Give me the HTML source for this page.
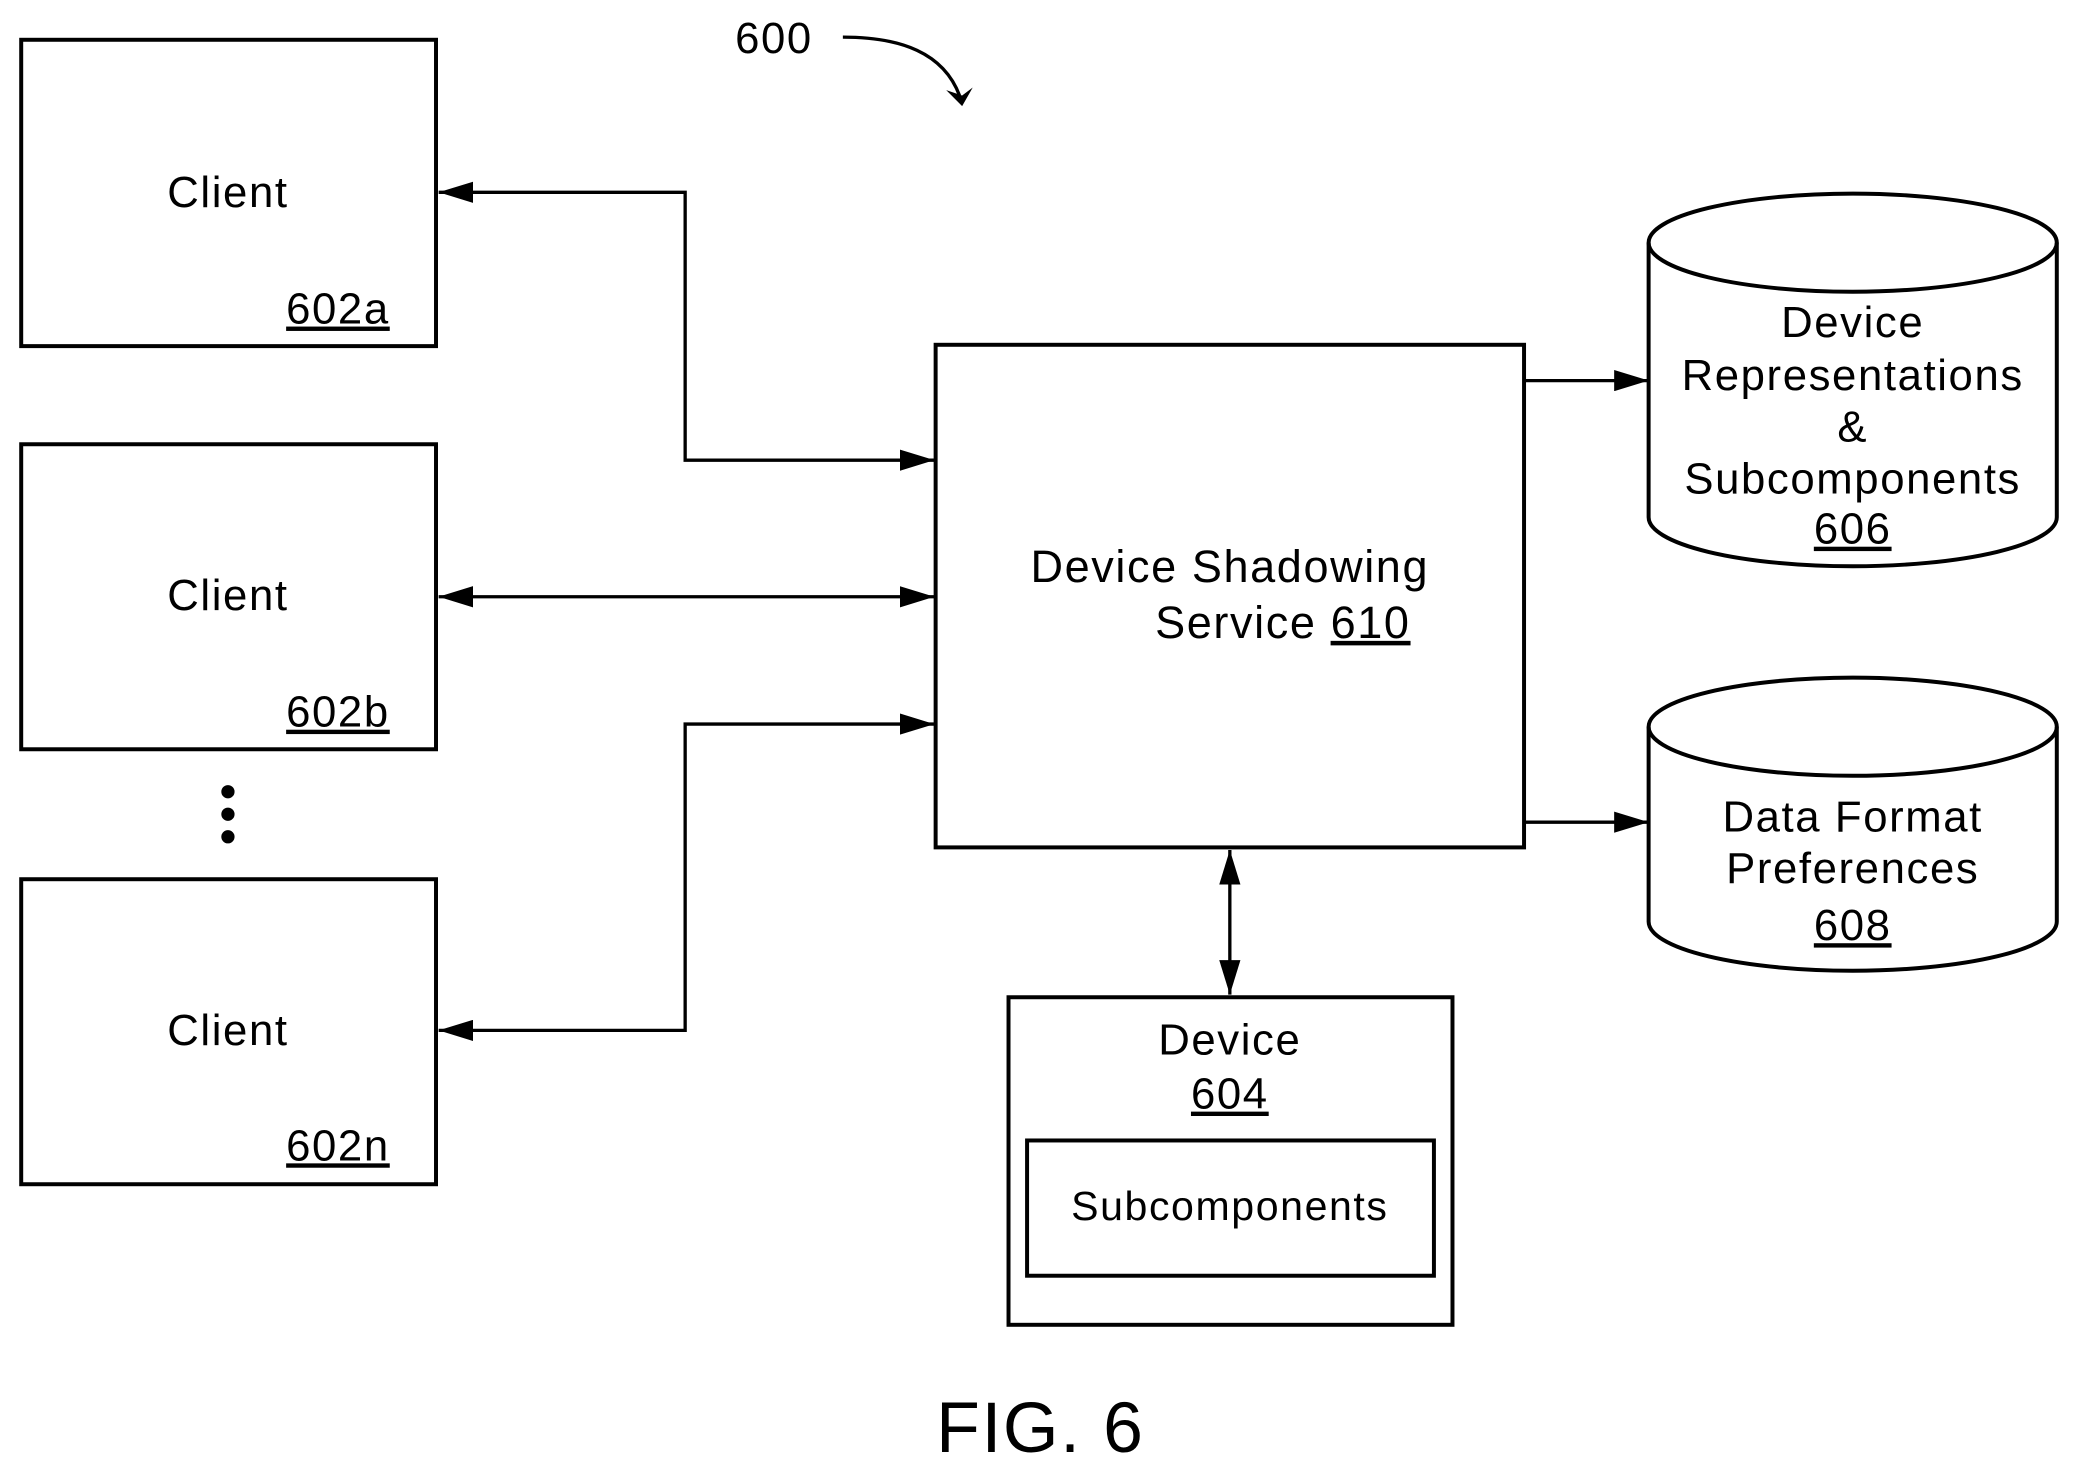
<!DOCTYPE html>
<html><head><style>html,body{margin:0;padding:0;background:#fff}svg{display:block}</style></head>
<body>
<svg width="2078" height="1472" viewBox="0 0 1568 1110" preserveAspectRatio="none" xmlns="http://www.w3.org/2000/svg" font-family="Liberation Sans, Arial, sans-serif" font-size="33" fill="#000">
<defs>
<marker id="a" viewBox="0 0 26 16" refX="26" refY="8" markerWidth="26" markerHeight="16" orient="auto-start-reverse" markerUnits="userSpaceOnUse">
<path d="M0,0 L26,8 L0,16 z"/>
</marker>
</defs>
<g fill="none" stroke="#000" stroke-width="3">
<rect x="16" y="30" width="313" height="231"/>
<rect x="16" y="335" width="313" height="230"/>
<rect x="16" y="663" width="313" height="230"/>
<rect x="706" y="260" width="444" height="379"/>
<rect x="761" y="752" width="335" height="247"/>
<rect x="775" y="860" width="307" height="102"/>
<path d="M1244,183 V390 A154,37 0 0 0 1552,390 V183"/>
<ellipse cx="1398" cy="183" rx="154" ry="37"/>
<path d="M1244,548 V695 A154,37 0 0 0 1552,695 V548"/>
<ellipse cx="1398" cy="548" rx="154" ry="37"/>
</g>
<g fill="none" stroke="#000" stroke-width="2.5">
<path d="M331,145 H517 V347 H705" marker-start="url(#a)" marker-end="url(#a)"/>
<path d="M331,450 H705" marker-start="url(#a)" marker-end="url(#a)"/>
<path d="M331,777 H517 V546 H705" marker-start="url(#a)" marker-end="url(#a)"/>
<path d="M1150,287 H1244" marker-end="url(#a)"/>
<path d="M1150,620 H1244" marker-end="url(#a)"/>
<path d="M928,641 V750" marker-start="url(#a)" marker-end="url(#a)"/>
<path d="M636,28 C680,28 712,40 724,72" />
</g>
<path d="M714,68 L726,80 L734,66 L726,72 z"/>
<circle cx="172" cy="597" r="5"/><circle cx="172" cy="614" r="5"/><circle cx="172" cy="631" r="5"/>
<g text-anchor="middle" letter-spacing="1.2">
<text x="172" y="156">Client</text>
<text x="172" y="460">Client</text>
<text x="172" y="788">Client</text>
<text x="255" y="244" text-decoration="underline">602a</text>
<text x="255" y="548" text-decoration="underline">602b</text>
<text x="255" y="875" text-decoration="underline">602n</text>
<text x="928" y="439" font-size="34">Device Shadowing</text>
<text x="968" y="481" font-size="34">Service <tspan text-decoration="underline">610</tspan></text>
<text x="1398" y="254">Device</text>
<text x="1398" y="294">Representations</text>
<text x="1398" y="333">&amp;</text>
<text x="1398" y="372">Subcomponents</text>
<text x="1398" y="410" text-decoration="underline">606</text>
<text x="1398" y="627">Data Format</text>
<text x="1398" y="666">Preferences</text>
<text x="1398" y="709" text-decoration="underline">608</text>
<text x="928" y="795">Device</text>
<text x="928" y="836" text-decoration="underline">604</text>
<text x="928" y="920" font-size="31">Subcomponents</text>
<text x="584" y="40">600</text>
<text x="785" y="1095" font-size="54">FIG. 6</text>
</g>
</svg>
</body></html>
